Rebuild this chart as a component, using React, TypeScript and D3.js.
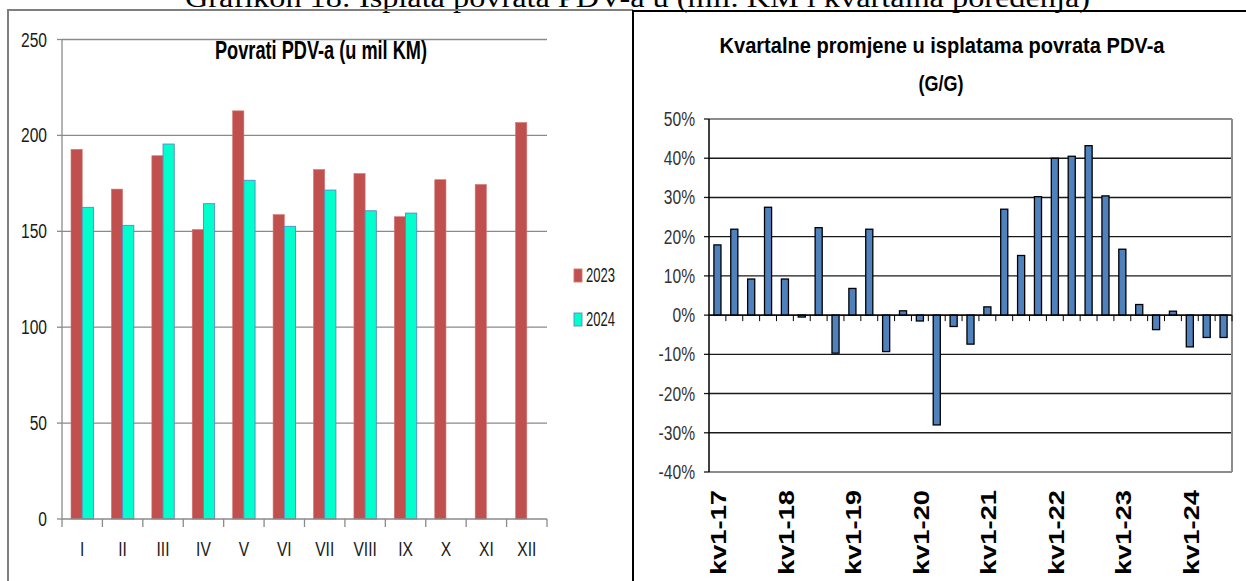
import React from "react";
import * as d3 from "d3";

const months = ["I", "II", "III", "IV", "V", "VI", "VII", "VIII", "IX", "X", "XI", "XII"];
const values2023 = [192.7, 172.0, 189.4, 150.9, 212.8, 158.7, 182.2, 180.1, 157.6, 176.9, 174.4, 206.7];
const values2024 = [162.5, 153.1, 195.5, 164.4, 176.6, 152.6, 171.5, 160.7, 159.5];
const leftTicks = [0, 50, 100, 150, 200, 250];
const seriesNames = ["2023", "2024"];

const quarters = [
  "kv1-17", "kv2-17", "kv3-17", "kv4-17",
  "kv1-18", "kv2-18", "kv3-18", "kv4-18",
  "kv1-19", "kv2-19", "kv3-19", "kv4-19",
  "kv1-20", "kv2-20", "kv3-20", "kv4-20",
  "kv1-21", "kv2-21", "kv3-21", "kv4-21",
  "kv1-22", "kv2-22", "kv3-22", "kv4-22",
  "kv1-23", "kv2-23", "kv3-23", "kv4-23",
  "kv1-24", "kv2-24", "kv3-24",
];
const quarterChange = [
  17.9, 21.9, 9.2, 27.5,
  9.2, -0.5, 22.3, -9.7,
  6.8, 21.9, -9.3, 1.1,
  -1.5, -28.0, -2.9, -7.4,
  2.1, 27.0, 15.2, 30.2,
  40.0, 40.5, 43.2, 30.4,
  16.8, 2.7, -3.7, 1.0,
  -8.1, -5.7, -5.7,
];
const rightTicks = [-40, -30, -20, -10, 0, 10, 20, 30, 40, 50];
const shownQuarterLabels = ["kv1-17", "kv1-18", "kv1-19", "kv1-20", "kv1-21", "kv1-22", "kv1-23", "kv1-24"];

const SANS = "'Liberation Sans', Arial, sans-serif";
const SERIF = "'Liberation Serif', 'Times New Roman', serif";

function T(props: any) {
  const { x, y, sx = 1, anchor = "start", size, weight = "normal", family = SANS, fill = "#111", children, rotate = 0 } = props;
  return (
    <text
      transform={`translate(${x},${y}) rotate(${rotate}) scale(${sx},1)`}
      textAnchor={anchor}
      fontSize={size}
      fontWeight={weight}
      fontFamily={family}
      fill={fill}
    >
      {children}
    </text>
  );
}

export default function App() {
  // Left chart scales
  const lx = d3.scaleBand<string>().domain(months).range([62, 547]).padding(0);
  const ly = d3.scaleLinear().domain([0, 250]).range([519, 39.5]);
  const lbw = lx.bandwidth();
  const barW = lbw * 0.277;

  // Right chart scales
  const rx = d3.scaleBand<string>().domain(quarters).range([709, 1232]).padding(0);
  const ry = d3.scaleLinear().domain([-40, 50]).range([472, 119]);
  const rbw = rx.bandwidth();
  const rBarW = rbw * 0.42;

  const gridGray = "#8a8a8a";

  return (
    <svg width={1246} height={581} style={{ position: "absolute", left: 0, top: 0, background: "#fff" }}>
      <rect x={0} y={0} width={1246} height={581} fill="#fff" />
      {/* header text, cut at top */}
      <text x={185} y={7} fontFamily={SERIF} fontSize={27} textLength={905} lengthAdjust="spacingAndGlyphs" fill="#000">
        Grafikon 18: Isplata povrata PDV-a u (mil. KM i kvartalna poređenja)
      </text>

      {/* frames */}
      <line x1={7} x2={633} y1={10} y2={10} stroke="#7f7f7f" strokeWidth={2} />
      <line x1={8} x2={8} y1={10} y2={581} stroke="#7f7f7f" strokeWidth={2} />
      <line x1={633} x2={1246} y1={11} y2={11} stroke="#000" strokeWidth={2} />
      <line x1={633} x2={633} y1={10} y2={581} stroke="#000" strokeWidth={2} />

      {/* ===== Left chart ===== */}
      {leftTicks.map((t) => (
        <g key={"lg" + t}>
          {t > 0 && <line x1={62} x2={547} y1={ly(t)} y2={ly(t)} stroke={gridGray} strokeWidth={1.3} />}
          <line x1={57} x2={62} y1={ly(t)} y2={ly(t)} stroke={gridGray} strokeWidth={1.3} />
          <T x={47} y={ly(t) + 7} sx={0.8} anchor="end" size={19.5} fill="#1a1a1a">
            {t}
          </T>
        </g>
      ))}
      <line x1={62} x2={62} y1={39.5} y2={519} stroke={gridGray} strokeWidth={1.3} />

      {months.map((m, i) => {
        const x0 = lx(m)!;
        const c = x0 + lbw / 2;
        return (
          <g key={"m" + m}>
            <rect x={c - barW} y={ly(values2023[i])} width={barW} height={519 - ly(values2023[i])} fill="#C0504D" stroke="#d37371" strokeWidth={0.6} />
            {i < values2024.length && (
              <rect x={c} y={ly(values2024[i])} width={barW} height={519 - ly(values2024[i])} fill="#00FFCC" stroke="#5b86c9" strokeWidth={0.9} />
            )}
            <T x={c} y={556} sx={0.8} anchor="middle" size={19.5} fill="#1a1a1a">
              {m}
            </T>
          </g>
        );
      })}
      <line x1={62} x2={547} y1={519} y2={519} stroke={gridGray} strokeWidth={1.3} />
      {months.concat(["_end"]).map((m, i) => {
        const x = 62 + i * lbw;
        return <line key={"lt" + i} x1={x} x2={x} y1={519} y2={527} stroke={gridGray} strokeWidth={1.3} />;
      })}

      {/* left title */}
      <text x={321} y={59} textAnchor="middle" fontFamily={SANS} fontWeight="bold" fontSize={26.5} textLength={212} lengthAdjust="spacingAndGlyphs" fill="#000">
        Povrati PDV-a (u mil KM)
      </text>

      {/* legend */}
      {seriesNames.map((s, i) => (
        <g key={"leg" + s}>
          <rect x={574} y={269 + i * 44} width={8} height={13} fill={i === 0 ? "#C0504D" : "#00FFCC"} stroke={i === 0 ? "#d37371" : "#5b86c9"} strokeWidth={0.9} />
          <T x={586} y={282 + i * 44} sx={0.67} size={19.5} fill="#1a1a1a">
            {s}
          </T>
        </g>
      ))}

      {/* ===== Right chart ===== */}
      <text x={942} y={53} textAnchor="middle" fontFamily={SANS} fontWeight="bold" fontSize={22} textLength={445} lengthAdjust="spacingAndGlyphs" fill="#000">
        Kvartalne promjene u isplatama povrata PDV-a
      </text>
      <text x={941} y={91} textAnchor="middle" fontFamily={SANS} fontWeight="bold" fontSize={22} textLength={45} lengthAdjust="spacingAndGlyphs" fill="#000">
        (G/G)
      </text>

      {rightTicks.map((t) => (
        <g key={"rg" + t}>
          {t > -40 && t < 50 && <line x1={709} x2={1232} y1={ry(t)} y2={ry(t)} stroke="#1a1a1a" strokeWidth={1.4} />}
          <line x1={704} x2={709} y1={ry(t)} y2={ry(t)} stroke="#1a1a1a" strokeWidth={1.3} />
          <T x={695} y={ry(t) + 7} sx={0.8} anchor="end" size={19.5} fill="#333">
            {t + "%"}
          </T>
        </g>
      ))}
      {/* plot border */}
      <line x1={709} x2={1232} y1={ry(50)} y2={ry(50)} stroke="#8c8c8c" strokeWidth={2} />
      <line x1={709} x2={1232} y1={ry(-40)} y2={ry(-40)} stroke="#8c8c8c" strokeWidth={2} />
      <line x1={1232} x2={1232} y1={ry(50)} y2={ry(-40)} stroke="#8c8c8c" strokeWidth={2} />

      {quarters.map((q, i) => {
        const c = rx(q)! + rbw / 2;
        const v = quarterChange[i];
        const y0 = ry(Math.max(0, v));
        const h = Math.abs(ry(v) - ry(0));
        return <rect key={"qb" + q} x={c - rBarW / 2} y={y0} width={rBarW} height={h} fill="#4F81BD" stroke="#000" strokeWidth={1.3} />;
      })}
      {/* zero axis + ticks */}
      <line x1={709} x2={1232} y1={ry(0)} y2={ry(0)} stroke="#000" strokeWidth={1.4} />
      {quarters.map((q, i) => {
        const x = rx(q)! + rbw;
        return <line key={"qt" + i} x1={x} x2={x} y1={ry(0)} y2={ry(0) + 6} stroke="#000" strokeWidth={1} />;
      })}
      <line x1={709} x2={709} y1={ry(50)} y2={ry(-40)} stroke="#000" strokeWidth={1.5} />

      {shownQuarterLabels.map((q) => {
        const c = rx(q)! + rbw / 2;
        return (
          <text
            key={"ql" + q}
            transform={`translate(${c + 9},${490}) rotate(-90)`}
            textAnchor="end"
            fontFamily={SANS}
            fontWeight="bold"
            fontSize={22}
            textLength={85}
            lengthAdjust="spacingAndGlyphs"
            fill="#000"
          >
            {q}
          </text>
        );
      })}
    </svg>
  );
}
